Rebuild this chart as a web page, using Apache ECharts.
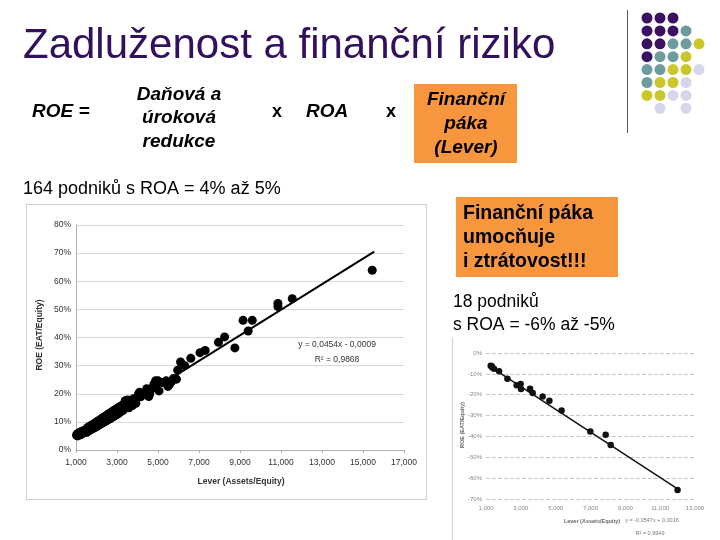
<!DOCTYPE html>
<html><head><meta charset="utf-8">
<script src="https://cdn.jsdelivr.net/npm/echarts@6/dist/echarts.min.js"></script>
<style>html,body{margin:0;padding:0;background:#fff}#c{width:720px;height:540px}</style>
</head><body><div id="c"></div>
<script>
// Left chart: 164 firms, ROA 4-5%  (lever, ROE %)
const leverA = [1.03,1.05,1.08,1.10,1.12,1.15,1.18,1.20,1.22,1.25,1.28,1.30,1.33,1.36,1.40,1.42,1.45,1.48,1.50,1.53,1.56,1.60,1.62,1.65,1.68,1.70,1.73,1.76,1.80,1.82,1.85,1.88,1.90,1.93,1.96,2.00,2.02,2.05,2.08,2.10,2.13,2.16,2.20,2.22,2.25,2.28,2.30,2.33,2.36,2.40,2.42,2.45,2.48,2.50,2.53,2.56,2.60,2.62,2.65,2.68,2.70,2.73,2.76,2.80,2.82,2.85,2.88,2.90,2.93,2.96,3.00,3.02,3.05,3.08,3.10,3.14,3.18,3.22,3.26,3.30,3.33,3.36,3.40,3.42,3.45,3.48,3.50,3.52,3.55,3.58,3.62,3.66,3.70,3.75,3.80,3.85,3.92,3.98,4.05,4.10,4.15,4.22,4.30,4.45,4.55,4.60,4.65,4.72,4.80,4.88,4.92,5.00,5.05,5.20,5.40,5.48,5.55,5.65,5.75,5.90,5.96,6.10,6.30,6.60,7.05,7.30,7.95,8.25,8.75,9.15,9.40,9.60,10.85,10.85,11.55,15.45];
const roeA   = [5.2,5.6,5.0,5.9,5.4,6.1,5.3,5.8,6.4,5.6,6.0,6.7,5.9,6.3,6.9,6.2,7.0,6.6,7.3,6.3,7.9,6.8,8.2,7.0,8.4,7.2,8.7,7.4,8.9,7.6,9.2,7.9,9.4,8.1,9.7,8.3,10.0,8.6,10.3,8.8,10.5,9.1,10.8,9.3,11.1,9.6,11.4,9.8,11.6,10.1,11.9,10.3,12.2,10.5,12.5,10.8,12.8,11.0,13.0,11.3,13.3,11.5,13.6,11.8,13.9,12.0,14.1,12.3,14.4,12.5,14.7,12.8,15.0,13.1,15.2,13.4,15.6,13.8,15.9,14.1,16.0,15.1,17.5,16.2,15.4,16.8,15.8,17.8,16.4,15.0,17.1,16.0,17.6,15.8,18.2,17.0,16.6,18.8,19.9,20.5,18.9,19.4,20.2,21.8,19.0,20.0,21.6,22.0,23.4,24.6,23.4,24.6,21.0,24.0,24.6,22.6,23.2,24.2,25.4,25.2,28.4,31.3,30.0,32.6,34.6,35.4,38.3,40.2,36.3,46.1,42.3,46.1,51.0,52.1,53.8,63.9];
const trendAX = [1.05, 15.55];
const trendAY = [4.7, 70.5];
const xTicksA = [1,17,2];   // min, max, step
const yTicksA = [0,80,10];

// Right chart: 18 firms, ROA -6% to -5%
const leverB = [1.27,1.33,1.36,1.46,1.75,2.23,2.76,2.99,3.01,3.53,3.68,4.25,4.64,5.34,6.99,7.87,8.16,12.0];
const roeB   = [-6.1,-6.4,-6.9,-7.5,-8.8,-12.3,-15.5,-14.9,-17.3,-17.1,-19.2,-20.8,-22.9,-27.6,-37.6,-39.2,-44.1,-65.7];
const trendBX = [1.15, 12.0];
const trendBY = [-6.0, -65.2];
const xTicksB = [1,13,2];
const yTicksB = [-70,0,10];

const F = '"Liberation Sans", Arial, sans-serif';
const fmtLever = v => v.toFixed(3).replace('.', ',');
const pairs = (xs, ys) => xs.map((x,i)=>[x, ys[i]]);

const chart = echarts.init(document.getElementById('c'), null, {renderer:'canvas'});

const dotColors = {P:'#3b1262', T:'#6d9c9f', Y:'#c9c72a', L:'#d6d6ea'};
const dotRows = ['PPP','PPPT','PPTTY','PTTY','TTYYL','TYYL','YYLL','.L.L'];
const dots = [];
dotRows.forEach((row, r) => {
  row.split('').forEach((c, k) => {
    if (c === '.') return;
    dots.push({type:'circle', shape:{cx:647 + k*13, cy:18 + r*12.9, r:5.5}, style:{fill:dotColors[c]}, silent:true});
  });
});

const txt = (x, y, text, font, opts={}) => ({
  type:'text', x, y, silent:true, rotation: opts.rotation || 0,
  style:{text, font, fill: opts.fill || '#000', align: opts.align || 'left', verticalAlign:'middle', lineHeight: opts.lineHeight}
});

const BI = 'italic bold 19px ' + F;

chart.setOption({
  animation:false,
  backgroundColor:'#fff',
  grid:[
    {left:76, top:225, width:328, height:225},
    {left:486, top:353, width:209, height:146}
  ],
  xAxis:[
    {gridIndex:0, type:'value', min:xTicksA[0], max:xTicksA[1], interval:xTicksA[2],
     axisLine:{show:true, lineStyle:{color:'#b0b0b0'}}, axisTick:{show:true, length:3, lineStyle:{color:'#b0b0b0'}},
     axisLabel:{formatter:fmtLever, color:'#333', fontSize:8.5, fontFamily:F, margin:8}, splitLine:{show:false}},
    {gridIndex:1, type:'value', min:xTicksB[0], max:xTicksB[1], interval:xTicksB[2], position:'bottom',
     axisLine:{show:false, onZero:false}, axisTick:{show:false},
     axisLabel:{formatter:fmtLever, color:'#888', fontSize:6, fontFamily:F, margin:6}, splitLine:{show:false}}
  ],
  yAxis:[
    {gridIndex:0, type:'value', min:yTicksA[0], max:yTicksA[1], interval:yTicksA[2],
     axisLine:{show:true, lineStyle:{color:'#b0b0b0'}}, axisTick:{show:false},
     axisLabel:{formatter:v=>v+'%', color:'#333', fontSize:8.5, fontFamily:F, margin:5},
     splitLine:{show:true, lineStyle:{color:'#d8d8d8', width:1}}},
    {gridIndex:1, type:'value', min:yTicksB[0], max:yTicksB[1], interval:yTicksB[2],
     axisLine:{show:false}, axisTick:{show:false},
     axisLabel:{formatter:v=>v+'%', color:'#888', fontSize:6, fontFamily:F, margin:4},
     splitLine:{show:true, lineStyle:{color:'#c8c8c8', width:1, type:'dashed'}}}
  ],
  series:[
    {type:'scatter', xAxisIndex:0, yAxisIndex:0, data:pairs(leverA, roeA), symbolSize:9, itemStyle:{color:'#000', opacity:1}, silent:true},
    {type:'line', xAxisIndex:0, yAxisIndex:0, data:pairs(trendAX, trendAY), symbol:'none', lineStyle:{color:'#000', width:2}, silent:true},
    {type:'scatter', xAxisIndex:1, yAxisIndex:1, data:pairs(leverB, roeB), symbolSize:6.5, itemStyle:{color:'#111', opacity:1}, silent:true},
    {type:'line', xAxisIndex:1, yAxisIndex:1, data:pairs(trendBX, trendBY), symbol:'none', lineStyle:{color:'#111', width:1.5}, silent:true}
  ],
  graphic:{elements:[
    {type:'rect', shape:{x:26.5, y:204.5, width:400, height:295}, style:{fill:'none', stroke:'#cfcfcf', lineWidth:1}, silent:true, z:-10},
    {type:'line', shape:{x1:452.5, y1:338, x2:452.5, y2:540}, style:{stroke:'#d0d0d0', lineWidth:1}, silent:true},
    {type:'line', shape:{x1:627.5, y1:10, x2:627.5, y2:133}, style:{stroke:'#555', lineWidth:1}, silent:true},
    ...dots,
    txt(23, 46, 'Zadluženost a finanční riziko', '42px ' + F, {fill:'#32105e'}),
    txt(32, 112, 'ROE =', BI),
    txt(179, 118, 'Daňová a\núroková\nredukce', BI, {align:'center', lineHeight:23.5}),
    txt(277, 112, 'x', 'bold 18px ' + F, {align:'center'}),
    txt(306, 112, 'ROA', BI),
    txt(391, 112, 'x', 'bold 18px ' + F, {align:'center'}),
    {type:'rect', shape:{x:414, y:84, width:103, height:79}, style:{fill:'#f7963c'}, silent:true},
    txt(466, 124, 'Finanční\npáka\n(Lever)', BI, {align:'center', lineHeight:24}),
    txt(23, 189, '164 podniků s ROA = 4% až 5%', '18px ' + F),
    {type:'rect', shape:{x:456, y:197, width:162, height:80}, style:{fill:'#f7963c'}, silent:true},
    txt(463, 238, 'Finanční páka\numocňuje\ni ztrátovost!!!', 'bold 19.5px ' + F, {lineHeight:24}),
    txt(453, 314, '18 podniků\ns ROA = -6% až -5%', '17.5px ' + F, {lineHeight:23}),
    txt(241, 482, 'Lever (Assets/Equity)', 'bold 8.5px ' + F, {align:'center', fill:'#333'}),
    txt(40, 335, 'ROE (EAT/Equity)', 'bold 8.5px ' + F, {align:'center', fill:'#333', rotation:Math.PI/2}),
    txt(337, 345, 'y = 0,0454x - 0,0009', '8.5px ' + F, {align:'center', fill:'#333'}),
    txt(337, 360, 'R² = 0,9868', '8.5px ' + F, {align:'center', fill:'#333'}),
    txt(592, 521, 'Lever (Assets/Equity)', 'bold 5.5px ' + F, {align:'center', fill:'#666'}),
    txt(462, 425, 'ROE (EAT/Equity)', 'bold 5.5px ' + F, {align:'center', fill:'#666', rotation:Math.PI/2}),
    txt(652, 520, 'y = -0,0547x + 0,0016', '5.5px ' + F, {align:'center', fill:'#777'}),
    txt(650, 533, 'R² = 0,9949', '5.5px ' + F, {align:'center', fill:'#777'})
  ]}
});
</script></body></html>
